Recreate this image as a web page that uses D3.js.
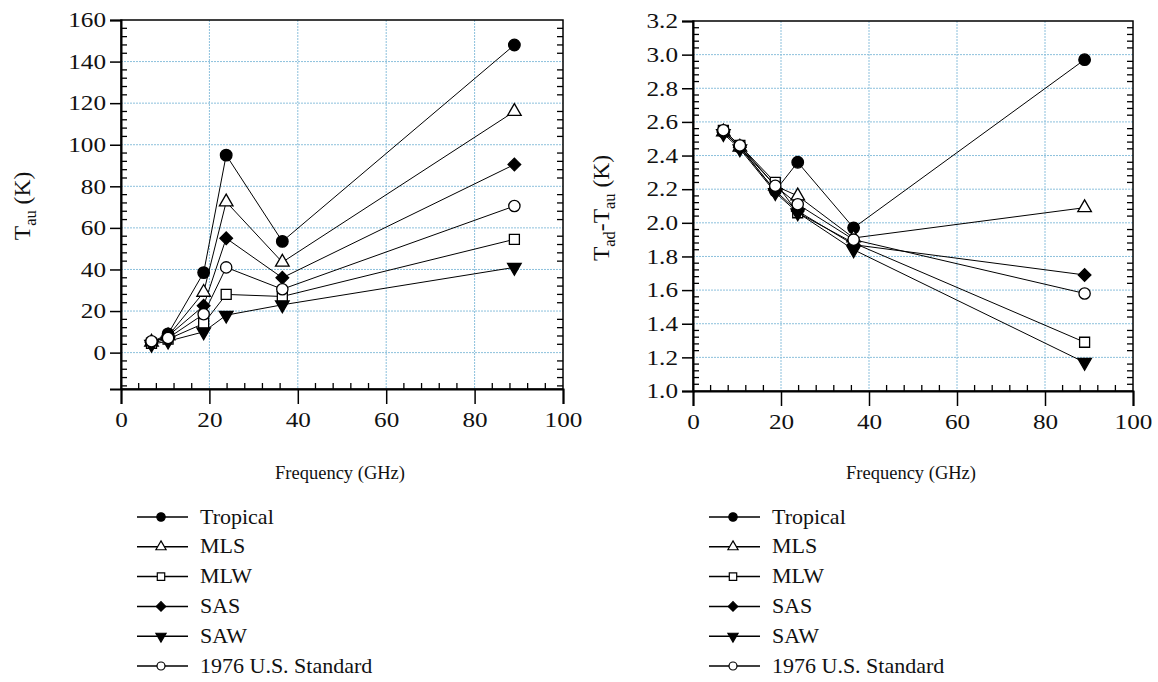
<!DOCTYPE html>
<html><head><meta charset="utf-8">
<script src="https://cdn.jsdelivr.net/npm/d3@7"></script>
<style>body{margin:0;background:#fff}svg{display:block}</style>
</head><body>
<svg id="c" width="1158" height="682"></svg>
<script>
const freqs = [6.9, 10.65, 18.7, 23.8, 36.5, 89.0];
const seriesNames = ["Tropical", "MLS", "MLW", "SAS", "SAW", "1976 U.S. Standard"];
const tauTropical = [5, 9, 38.5, 95, 53.5, 148];
const tauMLS      = [5, 8, 29, 72.5, 43.5, 116];
const tauMLW      = [4.5, 6.5, 14, 28, 27, 54.5];
const tauSAS      = [5, 8, 22.5, 55, 36, 90.5];
const tauSAW      = [4, 5.5, 10, 18, 23, 41];
const tauUSStd    = [5.5, 7, 18.5, 41, 30.5, 70.5];
const dTropical = [2.54, 2.45, 2.19, 2.36, 1.97, 2.97];
const dMLS      = [2.54, 2.45, 2.22, 2.16, 1.91, 2.09];
const dMLW      = [2.55, 2.46, 2.24, 2.06, 1.88, 1.29];
const dSAS      = [2.54, 2.45, 2.19, 2.07, 1.87, 1.69];
const dSAW      = [2.53, 2.44, 2.18, 2.06, 1.84, 1.17];
const dUSStd    = [2.55, 2.46, 2.22, 2.11, 1.90, 1.58];
const xTicks = [0, 20, 40, 60, 80, 100];
const yTicksLeft = [0, 20, 40, 60, 80, 100, 120, 140, 160];
const yTicksRight = [1.0, 1.2, 1.4, 1.6, 1.8, 2.0, 2.2, 2.4, 2.6, 2.8, 3.0, 3.2];

const markers = [
  {type: d3.symbolCircle, fill: "#000", rot: 0},
  {type: d3.symbolTriangle, fill: "#fff", rot: 0},
  {type: d3.symbolSquare, fill: "#fff", rot: 0},
  {type: d3.symbolSquare, fill: "#000", rot: 45},
  {type: d3.symbolTriangle, fill: "#000", rot: 180},
  {type: d3.symbolCircle, fill: "#fff", rot: 0}
];
const plotSizes = [105, 80, 100, 80, 80, 100];
const legSizes = [55, 45, 55, 45, 45, 50];
const FONT = "Liberation Serif";
const SX = 1.2;

const svg = d3.select("#c");

function panel(opt) {
  const x = d3.scaleLinear().domain([0, 100]).range([opt.x0, opt.x1]);
  const y = d3.scaleLinear().domain(opt.ydom).range([opt.yb, opt.yt]);
  const g = svg.append("g");
  // grid
  xTicks.filter(t => t > 0 && t < 100).forEach(t => {
    g.append("line").attr("x1", x(t)).attr("x2", x(t)).attr("y1", opt.yt).attr("y2", opt.yb)
      .attr("stroke", "#8cc0dc").attr("stroke-width", 1).attr("stroke-dasharray", "2,1");
  });
  opt.yt_ticks.filter(t => t > opt.ydom[0] + 1e-9 && t < opt.ydom[1] - 1e-9).forEach(t => {
    g.append("line").attr("x1", opt.x0).attr("x2", opt.x1).attr("y1", y(t)).attr("y2", y(t))
      .attr("stroke", "#8cc0dc").attr("stroke-width", 1).attr("stroke-dasharray", "2,1");
  });
  // frame
  g.append("rect").attr("x", opt.x0).attr("y", opt.yt).attr("width", opt.x1 - opt.x0).attr("height", opt.yb - opt.yt)
    .attr("fill", "none").attr("stroke", "#000").attr("stroke-width", 1.5);
  // x axis
  const xAx = g.append("g").attr("transform", `translate(0,${opt.yb})`)
    .call(d3.axisBottom(x).tickValues(xTicks).tickSize(15).tickPadding(8).tickFormat(d3.format("d")));
  xAx.attr("font-family", FONT).attr("font-size", 21);
  xAx.select(".domain").attr("stroke-width", 2);
  xAx.selectAll(".tick line").attr("stroke-width", 1.5);
  xAx.selectAll("text").attr("fill", "#111").attr("transform", `scale(${SX},1)`);
  // x minor ticks inward
  d3.range(0, 101, 4).filter(v => v % 20 !== 0).forEach(v => {
    g.append("line").attr("x1", x(v)).attr("x2", x(v)).attr("y1", opt.yb).attr("y2", opt.yb - 6)
      .attr("stroke", "#000").attr("stroke-width", 1.3);
  });
  // y axis
  const yAx = g.append("g").attr("transform", `translate(${opt.x0},0)`)
    .call(d3.axisLeft(y).tickValues(opt.yt_ticks).tickSize(11).tickPadding(4).tickFormat(opt.fmt));
  yAx.attr("font-family", FONT).attr("font-size", 21);
  yAx.select(".domain").attr("stroke-width", 2);
  yAx.selectAll(".tick line").attr("stroke-width", 1.5);
  yAx.selectAll("text").attr("fill", "#111").attr("x", -15 / SX).attr("transform", `scale(${SX},1)`);
  // y minor ticks inward on both sides
  opt.minorY.forEach(v => {
    g.append("line").attr("x1", opt.x0).attr("x2", opt.x0 + 6).attr("y1", y(v)).attr("y2", y(v))
      .attr("stroke", "#000").attr("stroke-width", 1.3);
    g.append("line").attr("x1", opt.x1).attr("x2", opt.x1 - 6).attr("y1", y(v)).attr("y2", y(v))
      .attr("stroke", "#000").attr("stroke-width", 1.3);
  });
  // series
  const line = d3.line().x((d, i) => x(freqs[i])).y(d => y(d));
  opt.data.forEach((arr, si) => {
    g.append("path").attr("d", line(arr)).attr("fill", "none").attr("stroke", "#000").attr("stroke-width", 1);
  });
  opt.data.forEach((arr, si) => {
    const m = markers[si];
    arr.forEach((v, i) => {
      g.append("path").attr("d", d3.symbol().type(m.type).size(plotSizes[si])())
        .attr("transform", `translate(${x(freqs[i])},${y(v)}) rotate(${m.rot})`)
        .attr("fill", m.fill).attr("stroke", "#000").attr("stroke-width", 1.3);
    });
  });
  // x label
  svg.append("text").attr("x", (opt.x0 + opt.x1) / 2 - 2).attr("y", 479).attr("text-anchor", "middle")
    .attr("font-family", FONT).attr("font-size", 18.5).attr("fill", "#111").text("Frequency (GHz)");
  // y label
  const yl = svg.append("text").attr("transform", `translate(${opt.ylx},${opt.yly}) rotate(-90)`)
    .attr("text-anchor", "middle").attr("font-family", FONT).attr("font-size", 23.5).attr("fill", "#111");
  opt.ylabel(yl);
  // legend
  seriesNames.forEach((name, si) => {
    const ly = 517 + si * 29.8;
    const lx = opt.legX;
    svg.append("line").attr("x1", lx).attr("x2", lx + 51).attr("y1", ly).attr("y2", ly)
      .attr("stroke", "#000").attr("stroke-width", 1.5);
    const m = markers[si];
    svg.append("path").attr("d", d3.symbol().type(m.type).size(legSizes[si])())
      .attr("transform", `translate(${lx + 24},${ly}) rotate(${m.rot})`)
      .attr("fill", m.fill).attr("stroke", "#000").attr("stroke-width", 1.2);
    svg.append("text").attr("x", lx + 63).attr("y", ly + 6.5).attr("font-family", FONT).attr("font-size", 22)
      .attr("fill", "#111").text(name);
  });
}

panel({
  x0: 121, x1: 563, yt: 20, yb: 389, ydom: [-17.5, 160], yt_ticks: yTicksLeft,
  minorY: d3.range(-16, 160, 4).filter(v => v % 20 !== 0),
  fmt: d3.format("d"),
  data: [tauTropical, tauMLS, tauMLW, tauSAS, tauSAW, tauUSStd],
  ylx: 30, yly: 206, legX: 137,
  ylabel: t => { t.append("tspan").text("T"); t.append("tspan").attr("font-size", 16.5).attr("dy", 6).text("au");
    t.append("tspan").attr("dy", -6).text(" (K)"); }
});
panel({
  x0: 693, x1: 1133, yt: 21, yb: 391, ydom: [1.0, 3.2], yt_ticks: yTicksRight,
  minorY: d3.range(1.04, 3.2, 0.04).filter(v => Math.abs(Math.round(v * 5) - v * 5) > 0.01),
  fmt: d3.format(".1f"),
  data: [dTropical, dMLS, dMLW, dSAS, dSAW, dUSStd],
  ylx: 609, yly: 208, legX: 709,
  ylabel: t => { t.append("tspan").text("T"); t.append("tspan").attr("font-size", 16.5).attr("dy", 6).text("ad");
    t.append("tspan").attr("dy", -6).text("-T"); t.append("tspan").attr("font-size", 16.5).attr("dy", 6).text("au");
    t.append("tspan").attr("dy", -6).text(" (K)"); }
});
</script>
</body></html>
